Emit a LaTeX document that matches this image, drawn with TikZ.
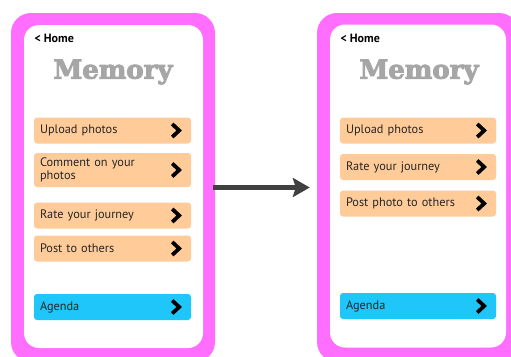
\documentclass[tikz,border=0pt]{standalone}
\usepackage{fontspec}
\setmainfont{PT Sans}
\newfontfamily\titlefont{DejaVu Serif}
\usetikzlibrary{arrows.meta}
\definecolor{framepink}{HTML}{FF6EFF}
\definecolor{btnpeach}{HTML}{FFCC99}
\definecolor{btnblue}{HTML}{1EC6FA}
\definecolor{arrowgray}{HTML}{404040}
\tikzset{
  phoneframe/.style={fill=framepink,rounded corners=20pt,minimum width=204pt,minimum height=349pt},
  phonescreen/.style={fill=white,rounded corners=15pt,minimum width=179pt,minimum height=323pt},
  menubtn/.style={fill=btnpeach,rounded corners=3pt,minimum width=157pt,minimum height=26pt,
    text width=145pt,inner xsep=6pt,align=left,font=\fontsize{12.3}{13}\selectfont,text=black!85},
  agendabtn/.style={menubtn,fill=btnblue},
  homelabel/.style={anchor=west,font=\bfseries\fontsize{12}{13}\selectfont},
  titlelabel/.style={font=\titlefont\bfseries\fontsize{26}{28}\selectfont,text=gray!70,
    execute at begin node={\special{pdf:code q 2 Tr 0.9 w 0.86 g 0.42 G}},
    execute at end node={\special{pdf:code Q}}},
  chevron/.style={line width=3.8pt,line join=miter},
  flowarrow/.style={-{Stealth[length=17pt,width=19pt,inset=3pt]},line width=4.5pt,draw=arrowgray}
}
\begin{document}
\begin{tikzpicture}[x=1pt,y=-1pt]
  \clip (0,0) rectangle (511,356);

  % before
  \node[phoneframe] (lframe) at (113,187.5) {};
  \node[phonescreen] (lscreen) at (113.5,186.5) {};
  \node[homelabel] (lhome) at (31,38) {< Home};
  \node[titlelabel] (ltitle) at (113,72) {Memory};
  \node[menubtn] (lup) at (112.5,130.5) {Upload photos};
  \node[menubtn,minimum height=34pt] (lcm) at (112.5,170) {Comment on your\\photos};
  \node[menubtn] (lrt) at (112.5,215.5) {Rate your journey};
  \node[menubtn] (lpo) at (112.5,248.5) {Post to others};
  \node[agendabtn] (lag) at (112.5,307) {Agenda};

  % after
  \node[phoneframe,minimum width=202pt] (rframe) at (418,187.5) {};
  \node[phonescreen,minimum width=176pt] (rscreen) at (418,186) {};
  \node[homelabel] (rhome) at (337,38) {< Home};
  \node[titlelabel] (rtitle) at (419,72) {Memory};
  \node[menubtn,minimum width=156pt,text width=144pt] (rup) at (418,130.5) {Upload photos};
  \node[menubtn,minimum width=156pt,text width=144pt] (rrt) at (418,167) {Rate your journey};
  \node[menubtn,minimum width=156pt,text width=144pt] (rpp) at (418,203.5) {Post photo to others};
  \node[agendabtn,minimum width=156pt,text width=144pt] (rag) at (418,306) {Agenda};

  \foreach \b in {lup,lcm,lrt,lpo,lag,rup,rrt,rpp,rag}
    \draw[chevron] ([xshift=-19pt,yshift=6.5pt]\b.east) -- ([xshift=-12pt]\b.east)
      -- ([xshift=-19pt,yshift=-6.5pt]\b.east);

  \draw[flowarrow,shorten <=-2pt,shorten >=7pt] (lframe.east) -- (rframe.west);
\end{tikzpicture}
\end{document}
